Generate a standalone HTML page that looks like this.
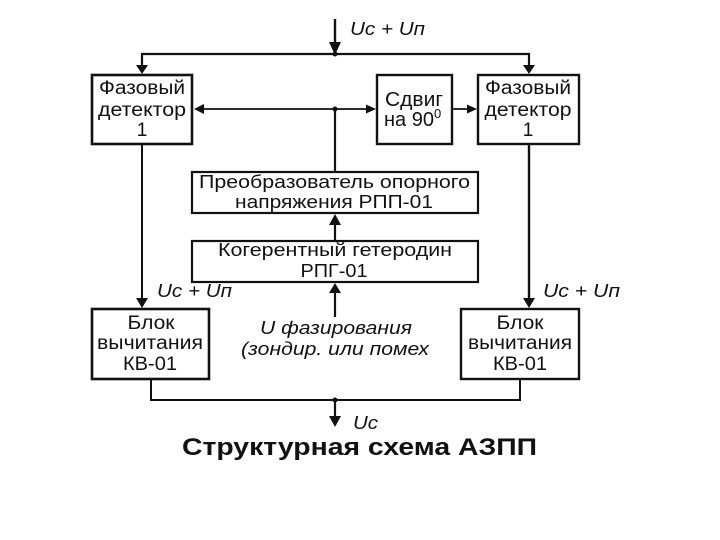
<!DOCTYPE html>
<html>
<head>
<meta charset="utf-8">
<style>
html,body{margin:0;padding:0;background:#fff;}
svg{display:block;}
text{font-family:"Liberation Sans",sans-serif;fill:#111;}
</style>
</head>
<body>
<svg width="720" height="540" viewBox="0 0 720 540" xmlns="http://www.w3.org/2000/svg">
<rect width="720" height="540" fill="#fff"/>
<g fill="none" stroke="#111">
<rect x="92" y="75" width="100" height="69" stroke-width="2.6"/>
<rect x="377" y="75" width="75" height="69" stroke-width="2.4"/>
<rect x="478" y="75" width="101" height="69" stroke-width="2.4"/>
<rect x="192" y="172" width="286" height="41" stroke-width="2.2"/>
<rect x="192" y="241" width="286" height="41" stroke-width="2.2"/>
<rect x="92" y="309" width="117" height="70" stroke-width="2.6"/>
<rect x="461" y="309" width="118" height="70" stroke-width="2.4"/>
<path d="M335 19V50" stroke-width="2.4"/>
<path d="M142 66V54H529V66" stroke-width="2.2"/>
<path d="M200 109H369" stroke-width="1.8"/>
<path d="M452 109H470" stroke-width="1.8"/>
<path d="M335 172V109" stroke-width="2.2"/>
<path d="M142 144V300" stroke-width="2"/>
<path d="M529 144V300" stroke-width="2.4"/>
<path d="M335 241V222" stroke-width="2.2"/>
<path d="M335 317V290" stroke-width="2.2"/>
<path d="M151 379V400H520V379" stroke-width="2"/>
<path d="M335 400V418" stroke-width="2.2"/>
</g>
<g fill="#111" stroke="none">
<polygon points="335,55 329,42 341,42"/>
<circle cx="335" cy="54" r="2.5"/>
<polygon points="142,74 136,65 148,65"/>
<polygon points="529,74 523,65 535,65"/>
<polygon points="194,109 204,104 204,114"/>
<polygon points="376,109 366,104.5 366,113.5"/>
<polygon points="477,109 467,104.5 467,113.5"/>
<circle cx="335" cy="109" r="2.5"/>
<polygon points="335,214 329,225 341,225"/>
<polygon points="335,283 329,293 341,293"/>
<polygon points="142,308 136,298 148,298"/>
<polygon points="529,308 523,298 535,298"/>
<circle cx="335" cy="400" r="2.5"/>
<polygon points="335,427 329,416 341,416"/>
</g>
<g font-size="19" text-anchor="middle">
<text x="142" y="94" textLength="86" lengthAdjust="spacingAndGlyphs">Фазовый</text>
<text x="142" y="116" textLength="88" lengthAdjust="spacingAndGlyphs">детектор</text>
<text x="142" y="136">1</text>
<text x="528" y="94" textLength="86" lengthAdjust="spacingAndGlyphs">Фазовый</text>
<text x="528" y="116" textLength="87" lengthAdjust="spacingAndGlyphs">детектор</text>
<text x="528" y="136">1</text>
<text x="414" y="106" font-size="20" textLength="58" lengthAdjust="spacingAndGlyphs">Сдвиг</text>
<text x="384" y="126" font-size="20" text-anchor="start">на 90<tspan font-size="13" dy="-8">0</tspan></text>
<text x="151" y="329" textLength="47" lengthAdjust="spacingAndGlyphs">Блок</text>
<text x="150" y="349" textLength="106" lengthAdjust="spacingAndGlyphs">вычитания</text>
<text x="150" y="370" textLength="54" lengthAdjust="spacingAndGlyphs">КВ-01</text>
<text x="520" y="329" textLength="47" lengthAdjust="spacingAndGlyphs">Блок</text>
<text x="520" y="349" textLength="104" lengthAdjust="spacingAndGlyphs">вычитания</text>
<text x="520" y="370" textLength="54" lengthAdjust="spacingAndGlyphs">КВ-01</text>
</g>
<g font-size="18" text-anchor="middle">
<text x="334.5" y="188" textLength="271" lengthAdjust="spacingAndGlyphs">Преобразователь опорного</text>
<text x="334" y="208" textLength="198" lengthAdjust="spacingAndGlyphs">напряжения РПП-01</text>
<text x="335" y="256" textLength="234" lengthAdjust="spacingAndGlyphs">Когерентный гетеродин</text>
<text x="334" y="277" textLength="67" lengthAdjust="spacingAndGlyphs">РПГ-01</text>
</g>
<g font-size="18" font-style="italic">
<text x="350" y="35" textLength="75" lengthAdjust="spacingAndGlyphs">Uc + Uп</text>
<text x="157" y="297" textLength="75" lengthAdjust="spacingAndGlyphs">Uc + Uп</text>
<text x="543" y="297" textLength="77" lengthAdjust="spacingAndGlyphs">Uc + Uп</text>
<text x="260" y="334" textLength="152" lengthAdjust="spacingAndGlyphs">U фазирования</text>
<text x="241" y="355" textLength="188" lengthAdjust="spacingAndGlyphs">(зондир. или помех</text>
<text x="353" y="429" textLength="25" lengthAdjust="spacingAndGlyphs">Uc</text>
</g>
<text x="182" y="455" font-size="24" font-weight="bold" textLength="355" lengthAdjust="spacingAndGlyphs">Структурная схема АЗПП</text>
</svg>
</body>
</html>
